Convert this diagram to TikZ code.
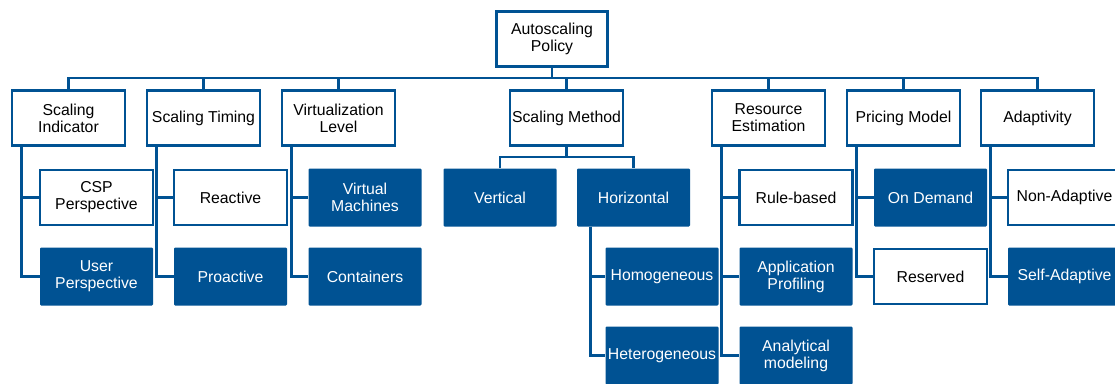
\documentclass[tikz,border=0pt]{standalone}
\usepackage{fontspec}
\setmainfont{Liberation Sans}
\definecolor{nblue}{RGB}{0,82,147}
\begin{document}
\begin{tikzpicture}[x=1pt,y=-1pt,
  base/.style={minimum width=113pt,inner sep=1pt,align=center,
    font=\fontsize{15.8}{17}\selectfont},
  wbox/.style={base,draw=nblue,line width=2.8pt,fill=white,text=black,minimum height=55pt},
  bbox/.style={base,fill=nblue,text=white,rounded corners=1.2pt,minimum height=58pt},
  conn/.style={draw=nblue,line width=2.8pt}]
\useasboundingbox (0,0) rectangle (1115,383);
\clip (0,0) rectangle (1115,383);
% root
\node[wbox,minimum width=111pt] (root) at (552,39) {Autoscaling\\Policy};
% level 1
\node[wbox] (si) at (68.5,118) {Scaling\\Indicator};
\node[wbox] (st) at (203.5,118) {Scaling Timing};
\node[wbox] (vl) at (338.5,118) {Virtualization\\Level};
\node[wbox] (sm) at (566.5,118) {Scaling Method};
\node[wbox] (re) at (768.5,118) {Resource\\Estimation};
\node[wbox] (pm) at (903.5,118) {Pricing Model};
\node[wbox] (ad) at (1037.5,118) {Adaptivity};
% level 2
\node[wbox] (csp) at (96.5,197.5) {CSP\\Perspective};
\node[bbox] (usr) at (96.5,276.5) {User\\Perspective};
\node[wbox] (rea) at (230.5,197.5) {Reactive};
\node[bbox] (pro) at (230.5,276.5) {Proactive};
\node[bbox] (vm) at (365,197.5) {Virtual\\Machines};
\node[bbox] (con) at (365,276.5) {Containers};
\node[bbox] (ver) at (500,197.5) {Vertical};
\node[bbox] (hor) at (633.5,197.5) {Horizontal};
\node[bbox] (hom) at (662,276.5) {Homogeneous};
\node[bbox] (het) at (662,355.5) {Heterogeneous};
\node[wbox] (rb) at (796,197.5) {Rule-based};
\node[bbox] (ap) at (796,276.5) {Application\\Profiling};
\node[bbox] (am) at (796,355.5) {Analytical\\modeling};
\node[bbox] (od) at (930.5,197.5) {On Demand};
\node[wbox] (rs) at (930.5,276.5) {Reserved};
\node[wbox] (na) at (1064.5,197.5) {Non-Adaptive};
\node[bbox] (sa) at (1064.5,276.5) {Self-Adaptive};
% bus
\coordinate (bus) at (552,78);
\draw[conn] (root.south) -- (bus);
\draw[conn,line cap=rect] (si.north |- bus) -- (ad.north |- bus);
\foreach \n in {si,st,vl,sm,re,pm,ad} \draw[conn] (\n.north |- bus) -- (\n.north);
% scaling method
\coordinate (smb) at (566.5,157);
\draw[conn] (sm.south) -- (smb);
\draw[conn] (ver.north) |- (smb) -| (hor.north);
% tree connectors
\draw[conn] ([xshift=11pt]si.south west) |- (csp.west);
\draw[conn] ([xshift=11pt]si.south west) |- (usr.west);
\draw[conn] ([xshift=11pt]st.south west) |- (rea.west);
\draw[conn] ([xshift=11pt]st.south west) |- (pro.west);
\draw[conn] ([xshift=11pt]vl.south west) |- (vm.west);
\draw[conn] ([xshift=11pt]vl.south west) |- (con.west);
\draw[conn] ([xshift=14pt]hor.south west) |- (hom.west);
\draw[conn] ([xshift=14pt]hor.south west) |- (het.west);
\draw[conn] ([xshift=11pt]re.south west) |- (rb.west);
\draw[conn] ([xshift=11pt]re.south west) |- (ap.west);
\draw[conn] ([xshift=11pt]re.south west) |- (am.west);
\draw[conn] ([xshift=11pt]pm.south west) |- (od.west);
\draw[conn] ([xshift=11pt]pm.south west) |- (rs.west);
\draw[conn] ([xshift=11pt]ad.south west) |- (na.west);
\draw[conn] ([xshift=11pt]ad.south west) |- (sa.west);
\end{tikzpicture}
\end{document}
